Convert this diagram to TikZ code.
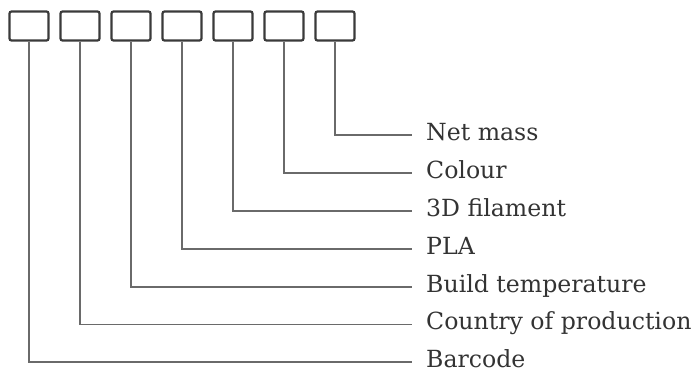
\documentclass[tikz,border=0pt]{standalone}
\usepackage{fontspec}
\setmainfont{DejaVu Serif}
\usepackage{tikz}
\usetikzlibrary{positioning}
\usetikzlibrary{calc}

\definecolor{boxgray}{HTML}{3A3A3A}
\definecolor{linegray}{HTML}{6A6A6A}
\definecolor{textgray}{HTML}{333333}

\tikzset{
  digit/.style={rectangle, draw=boxgray, line width=2.2pt, rounded corners=2pt,
    minimum width=39pt, minimum height=29pt, inner sep=0pt},
  field/.style={anchor=west, inner xsep=0pt, text height=0.73em, text depth=0pt,
    text=textgray, font=\fontsize{23.6}{28}\selectfont},
  lead/.style={draw=linegray, line width=1.5pt}
}

\begin{document}
\begin{tikzpicture}[x=1pt, y=1pt]
\useasboundingbox (0,0) rectangle (692,-374);

% the seven boxes of the code
\foreach \i in {1,...,7}
  \node[digit] (box\i) at ({29+51*(\i-1)}, -26) {};

% ends of the leads, one per field
\coordinate (end1) at (412,-362);
\coordinate (end2) at (412,-324.5);
\coordinate (end3) at (412,-287);
\coordinate (end4) at (412,-249);
\coordinate (end5) at (412,-211);
\coordinate (end6) at (412,-173);
\coordinate (end7) at (412,-135);

\node[field, right=14pt of end1, yshift=-1.5pt] (barcode) {Barcode};
\node[field, right=14pt of end2, yshift=-1.5pt] (country) {Country of production};
\node[field, right=14pt of end3, yshift=-1.5pt] (temp) {Build temperature};
\node[field, right=14pt of end4, yshift=-1.5pt] (pla) {PLA};
\node[field, right=14pt of end5, yshift=-1.5pt] (filament) {3D filament};
\node[field, right=14pt of end6, yshift=-1.5pt] (colour) {Colour};
\node[field, right=14pt of end7, yshift=-1.5pt] (mass) {Net mass};

\foreach \i in {1,...,7}
  \draw[lead] (box\i.south) |- (end\i);
\end{tikzpicture}
\end{document}
